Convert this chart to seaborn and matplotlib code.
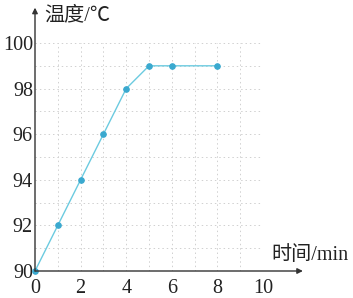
import matplotlib
matplotlib.use("Agg")
import matplotlib.pyplot as plt
import seaborn as sns
import pandas as pd
import numpy as np

time_min = [0, 1, 2, 3, 4, 5, 6, 8]
temp_c = [90, 92, 94, 96, 98, 99, 99, 99]
x_ticks = [0, 2, 4, 6, 8, 10]
y_ticks = [90, 92, 94, 96, 98, 100]
x_label = "时间/min"
y_label = "温度/℃"

sns.set_theme(style="white")
plt.rcParams['font.family'] = ['Liberation Serif', 'Noto Sans CJK SC', 'DejaVu Sans']

df = pd.DataFrame({"t": time_min, "T": temp_c})

fig = plt.figure(figsize=(3.53, 2.98), dpi=100)
ax = fig.add_axes([35/353, 27/298, 228/353, 228/298])

sns.lineplot(data=df, x="t", y="T", ax=ax, color="#6ccbe0", linewidth=1.0,
             marker="o", markersize=4.0, markerfacecolor="#3aa9cf",
             markeredgecolor="#3aa9cf", clip_on=False)

ax.set_xlim(0, 10)
ax.set_ylim(90, 100)
for v in range(1, 11):
    ax.axvline(v, color="#d0d0d0", lw=0.7, ls=(0, (1.5, 3)), zorder=0)
for v in range(91, 101):
    ax.axhline(v, color="#d0d0d0", lw=0.7, ls=(0, (1.5, 3)), zorder=0)

for s in ax.spines.values():
    s.set_visible(False)

ax.annotate("", xy=(11.75, 90), xytext=(0, 90), xycoords="data",
            arrowprops=dict(arrowstyle="-|>", color="#333333", lw=1.0,
                            mutation_scale=8, shrinkA=0, shrinkB=0),
            annotation_clip=False)
ax.annotate("", xy=(0, 101.55), xytext=(0, 90), xycoords="data",
            arrowprops=dict(arrowstyle="-|>", color="#333333", lw=1.0,
                            mutation_scale=8, shrinkA=0, shrinkB=0),
            annotation_clip=False)

ax.set_xticks(x_ticks)
ax.set_yticks(y_ticks)
ax.set_xticklabels([str(v) for v in x_ticks], fontsize=14.5, color="#222222")
ax.set_yticklabels([str(v) for v in y_ticks], fontsize=14.5, color="#222222")
ax.tick_params(axis="x", length=0, pad=6)
ax.tick_params(axis="y", length=0, pad=1.5)
ax.set_xlabel("")
ax.set_ylabel("")
ax.grid(False)

fig.text(44/353, 1 - 16/298, y_label, fontsize=14.5, va="center", ha="left",
         color="#222222")
fig.text(271/353, 1 - 255/298, x_label, fontsize=14.5, va="center", ha="left",
         color="#222222")

fig.savefig("out.png", dpi=100)
